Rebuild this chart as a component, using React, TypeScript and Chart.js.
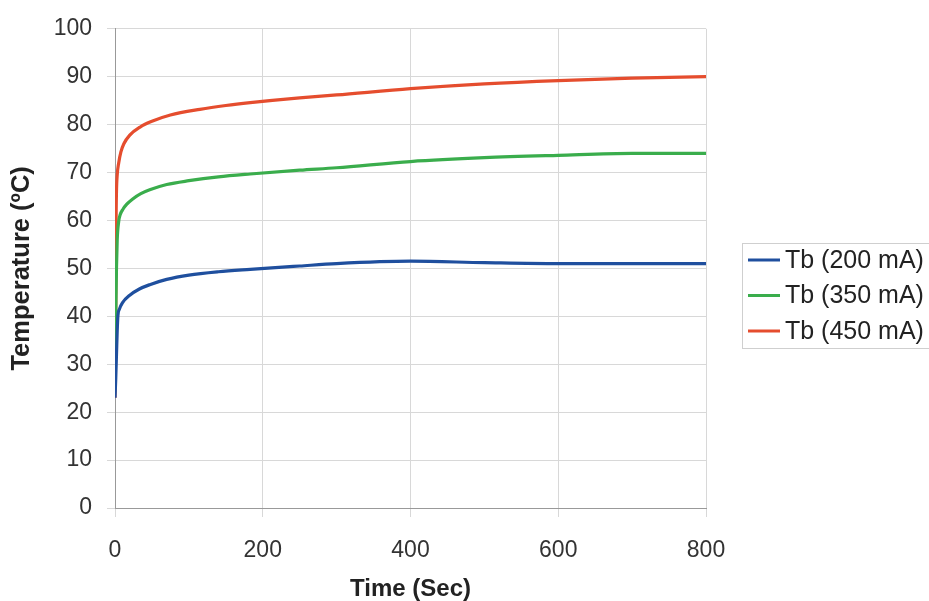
import React, { useEffect, useRef } from "react";
import { Chart, registerables } from "chart.js";

Chart.register(...registerables);

const seriesLabels = ["Tb (200 mA)", "Tb (350 mA)", "Tb (450 mA)"];
const seriesColors = ["#1f4f9e", "#3aad4c", "#e54d2e"];

const time200 = [0, 1, 2, 3, 4, 6, 10, 20, 33, 47, 70, 100, 140, 183, 250, 300, 400, 500, 600, 700, 800];
const temp200 = [23, 27, 32, 37, 40.2, 41.5, 42.8, 44.4, 45.7, 46.6, 47.7, 48.6, 49.3, 49.8, 50.5, 51, 51.5, 51.2, 51, 51, 51];

const time350 = [0, 1, 2, 3, 5, 7, 11, 16, 24, 35, 47, 70, 100, 140, 183, 250, 300, 400, 500, 600, 700, 800];
const temp350 = [25, 40, 50, 56, 59.8, 61.2, 62.4, 63.4, 64.5, 65.6, 66.4, 67.5, 68.3, 69.1, 69.7, 70.5, 71, 72.3, 73.1, 73.6, 74, 74];

const time450 = [0, 1, 1.5, 2, 3, 5, 8, 12, 20, 34, 50, 75, 115, 150, 183, 250, 300, 400, 500, 600, 700, 800];
const temp450 = [23, 40, 60, 66, 69.5, 72, 74.3, 76, 77.8, 79.5, 80.7, 82, 83.2, 84, 84.6, 85.6, 86.2, 87.5, 88.5, 89.2, 89.7, 90];

const xTickValues = [0, 200, 400, 600, 800];
const yTickValues = [0, 10, 20, 30, 40, 50, 60, 70, 80, 90, 100];

const xTitle = "Time (Sec)";
const yTitle = "Temperature (ºC)";

const FONT = "'Liberation Sans', Arial, Helvetica, sans-serif";

const toPoints = (xs: number[], ys: number[]) => xs.map((x, i) => ({ x, y: ys[i] }));

const boxLegend = {
  id: "boxLegend",
  afterDraw(chart: any) {
    const { ctx, chartArea } = chart;
    const left = chartArea.right + 36;
    const top = 243;
    ctx.save();
    ctx.strokeStyle = "#cfcfcf";
    ctx.lineWidth = 1;
    ctx.strokeRect(Math.round(left) + 0.5, top + 0.5, 200, 105);
    ctx.font = `25px ${FONT}`;
    ctx.textBaseline = "middle";
    ctx.textAlign = "left";
    seriesLabels.forEach((label, i) => {
      const y = top + 17 + i * 35.5;
      ctx.strokeStyle = seriesColors[i];
      ctx.lineWidth = 3;
      ctx.beginPath();
      ctx.moveTo(left + 6, y);
      ctx.lineTo(left + 38, y);
      ctx.stroke();
      ctx.fillStyle = "#222";
      ctx.fillText(label, left + 43, y + 1);
    });
    ctx.restore();
  },
};

export default function App() {
  const ref = useRef<HTMLCanvasElement | null>(null);

  useEffect(() => {
    if (!ref.current) return;
    const datasets = [
      toPoints(time200, temp200),
      toPoints(time350, temp350),
      toPoints(time450, temp450),
    ].map((data, i) => ({
      label: seriesLabels[i],
      data,
      borderColor: seriesColors[i],
      backgroundColor: seriesColors[i],
      borderWidth: 3.2,
      pointRadius: 0,
      cubicInterpolationMode: "monotone" as const,
      fill: false,
    }));

    const chart = new Chart(ref.current, {
      type: "line",
      data: { datasets },
      plugins: [boxLegend],
      options: {
        responsive: false,
        animation: false,
        layout: { padding: { top: 26, right: 223, left: 0, bottom: 0 } },
        plugins: { legend: { display: false }, tooltip: { enabled: false } },
        scales: {
          x: {
            type: "linear",
            min: 0,
            max: 800,
            afterBuildTicks: (scale: any) => {
              scale.ticks = xTickValues.map((v) => ({ value: v }));
            },
            afterFit: (scale: any) => {
              scale.height = 93;
            },
            ticks: {
              color: "#333",
              font: { family: FONT, size: 23 },
              padding: 20,
            },
            grid: { color: "#d8d8d8", tickColor: "#d8d8d8", tickLength: 9 },
            border: { color: "#999", width: 1 },
            title: {
              display: true,
              text: xTitle,
              color: "#222",
              font: { family: FONT, size: 24, weight: "bold", lineHeight: 1 },
              padding: { top: 0, bottom: 0 },
            },
          },
          y: {
            type: "linear",
            min: 0,
            max: 100,
            afterBuildTicks: (scale: any) => {
              scale.ticks = yTickValues.map((v) => ({ value: v }));
            },
            afterFit: (scale: any) => {
              scale.width = 115;
            },
            ticks: {
              color: "#333",
              font: { family: FONT, size: 23 },
              padding: 15,
            },
            grid: { color: "#d8d8d8", tickColor: "#d8d8d8", tickLength: 8 },
            border: { color: "#999", width: 1 },
            title: {
              display: true,
              text: yTitle,
              color: "#222",
              font: { family: FONT, size: 25.5, weight: "bold", lineHeight: 1.2 },
              padding: { top: 7, bottom: 0 },
            },
          },
        },
      },
    });
    return () => chart.destroy();
  }, []);

  return (
    <div style={{ position: "absolute", left: 0, top: 0, width: 929, height: 601, background: "#fff" }}>
      <canvas ref={ref} width={929} height={601} />
    </div>
  );
}
